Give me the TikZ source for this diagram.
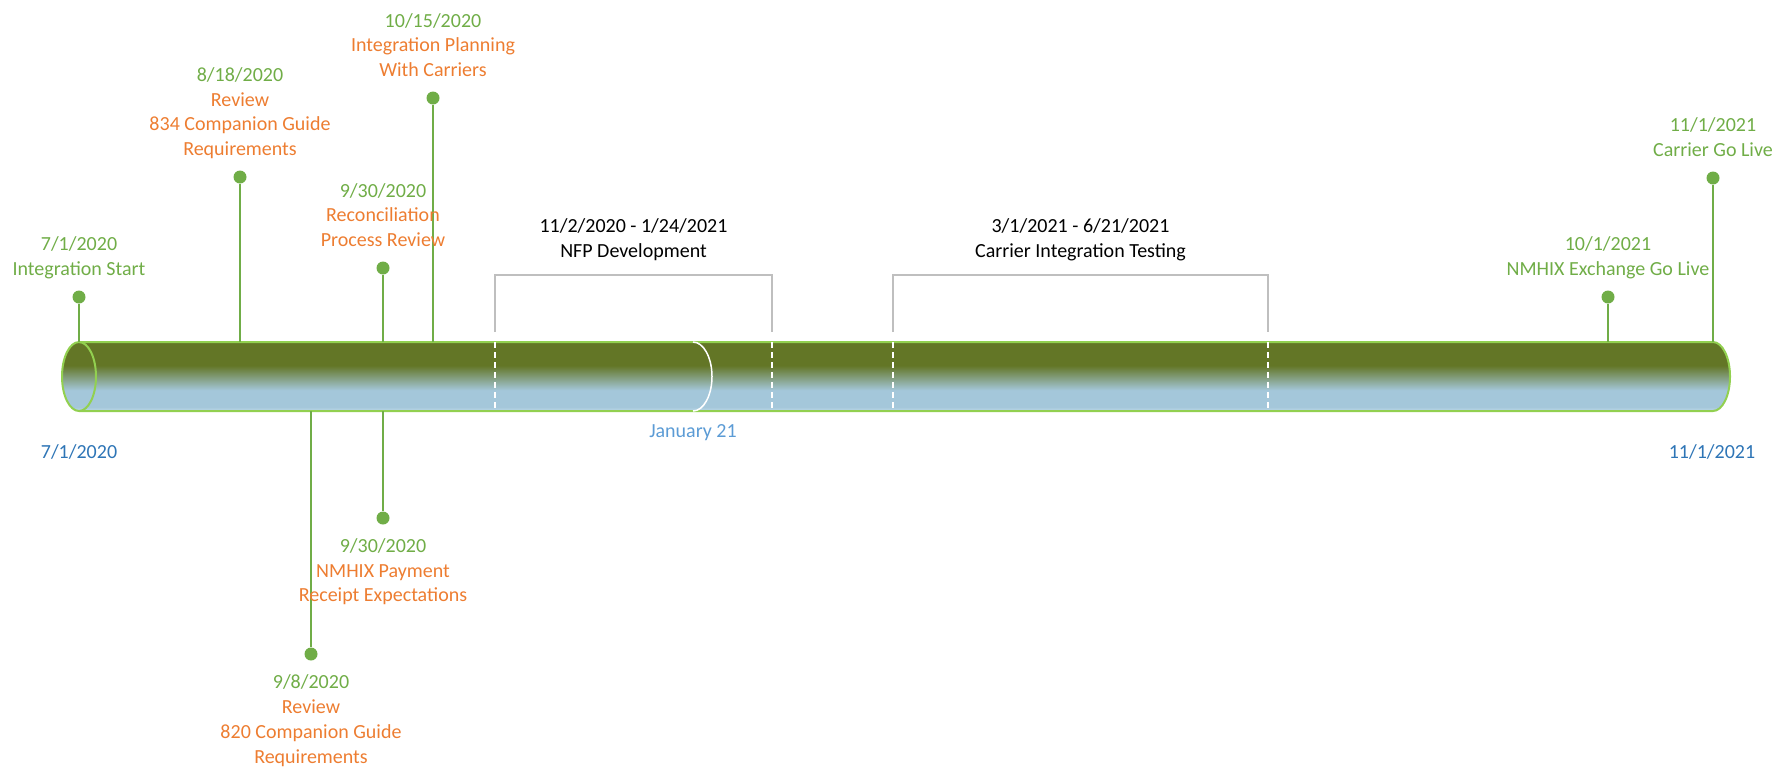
\documentclass[tikz,border=0pt]{standalone}
\usepackage{fontspec}
\setmainfont{Carlito}
\usetikzlibrary{positioning}

\definecolor{tlgreen}{HTML}{70AD47}
\definecolor{tlorange}{HTML}{ED7D31}
\definecolor{tlblue}{HTML}{2E75B6}
\definecolor{tlsky}{HTML}{5B9BD5}
\definecolor{tlolive}{HTML}{637626}
\definecolor{tlice}{HTML}{A4C7DA}
\definecolor{tlicelight}{HTML}{BDD8E7}
\definecolor{tlrim}{HTML}{92D050}
\definecolor{tlgray}{HTML}{BFBFBF}

\pgfdeclareverticalshading{barshade}{100bp}{color(0bp)=(tlicelight); color(25bp)=(tlicelight);
  color(28bp)=(tlice); color(40bp)=(tlice); color(58bp)=(tlolive); color(75bp)=(tlolive); color(100bp)=(tlolive)}

\begin{document}
\begin{tikzpicture}[x=0.5pt,y=-0.5pt,
    evdot/.style={circle,fill=tlgreen,minimum size=6.5pt,inner sep=0},
    evstem/.style={draw=tlgreen,line width=1pt},
    evtext/.style={align=center,inner sep=0,text depth=0pt,font=\fontsize{10}{12.4}\selectfont,text=tlorange},
    spanline/.style={draw=tlgray,line width=1pt},
    spantext/.style={evtext,text=black},
    splitline/.style={draw=white,line width=0.75pt,dash pattern=on 3pt off 2pt},
    axisdate/.style={anchor=base,inner sep=0,font=\fontsize{10}{12.4}\selectfont,text=tlblue}]
    \useasboundingbox (0,0) rectangle (1781,768);

    % the bar
    \shade[shading=barshade] (79,342) -- (1713,342) arc[start angle=90,end angle=-90,x radius=8.5pt,y radius=17.25pt]
        -- (79,411) arc[start angle=270,end angle=90,x radius=8.5pt,y radius=17.25pt] -- cycle;
    \draw[tlrim,line width=1pt] (79,342) -- (1713,342) arc[start angle=90,end angle=-90,x radius=8.5pt,y radius=17.25pt] -- (79,411);
    \draw[tlrim,line width=1pt] (79,376.5) ellipse [x radius=8.5pt,y radius=17.25pt];
    \draw[white,line width=0.75pt] (693,342) arc[start angle=90,end angle=-90,x radius=9.5pt,y radius=17.25pt];
    \foreach \sx in {495,772,893,1268}
        \draw[splitline] (\sx,342) -- (\sx,411);

    % spans
    \coordinate (nfpA) at (495,332);
    \coordinate (nfpB) at (495,275);
    \coordinate (nfpC) at (772,275);
    \coordinate (nfpD) at (772,332);
    \coordinate (nfpM) at (633.5,275);
    \draw[spanline] (nfpA) -- (nfpB) -- (nfpC) -- (nfpD);
    \node[spantext,above=8.5pt of nfpM] (nfp) {11/2/2020 - 1/24/2021\\NFP Development};

    \coordinate (citA) at (893,332);
    \coordinate (citB) at (893,275);
    \coordinate (citC) at (1268,275);
    \coordinate (citD) at (1268,332);
    \coordinate (citM) at (1080.5,275);
    \draw[spanline] (citA) -- (citB) -- (citC) -- (citD);
    \node[spantext,above=8.5pt of citM] (cit) {3/1/2021 - 6/21/2021\\Carrier Integration Testing};

    % events above the bar
    \node[evdot] (d1) at (79,297) {};
    \node[evdot] (d2) at (240,177) {};
    \node[evdot] (d3) at (383,268) {};
    \node[evdot] (d4) at (433,98) {};
    \node[evdot] (d5) at (1608,297) {};
    \node[evdot] (d6) at (1713,178) {};
    \coordinate (b1) at (79,342);
    \coordinate (b2) at (240,342);
    \coordinate (b3) at (383,342);
    \coordinate (b4) at (433,342);
    \coordinate (b5) at (1608,342);
    \coordinate (b6) at (1713,342);
    \foreach \i in {1,...,6}
        \draw[evstem] (d\i) -- (b\i);

    \node[evtext,text=tlgreen,above=7.25pt of d1] (t1) {7/1/2020\\Integration Start};
    \node[evtext,above=7pt of d2] (t2) {{\color{tlgreen}8/18/2020}\\Review\\834 Companion Guide\\Requirements};
    \node[evtext,above=7pt of d3] (t3) {{\color{tlgreen}9/30/2020}\\Reconciliation\\Process Review};
    \node[evtext,above=7pt of d4] (t4) {{\color{tlgreen}10/15/2020}\\Integration Planning\\With Carriers};
    \node[evtext,text=tlgreen,above=7.25pt of d5] (t5) {10/1/2021\\NMHIX Exchange Go Live};
    \node[evtext,text=tlgreen,above=7pt of d6] (t6) {11/1/2021\\Carrier Go Live};

    % events below the bar
    \node[evdot] (d7) at (311,654) {};
    \node[evdot] (d8) at (383,518) {};
    \coordinate (b7) at (311,411);
    \coordinate (b8) at (383,411);
    \draw[evstem] (b7) -- (d7);
    \draw[evstem] (b8) -- (d8);
    \node[evtext,below=6.75pt of d7] (t7) {{\color{tlgreen}9/8/2020}\\Review\\820 Companion Guide\\Requirements};
    \node[evtext,below=6.5pt of d8] (t8) {{\color{tlgreen}9/30/2020}\\NMHIX Payment\\Receipt Expectations};

    % dates on the axis
    \node[axisdate] (start) at (79,458) {7/1/2020};
    \node[axisdate] (finish) at (1712,458) {11/1/2021};
    \node[axisdate,text=tlsky] (today) at (693,437) {January 21};
\end{tikzpicture}
\end{document}
